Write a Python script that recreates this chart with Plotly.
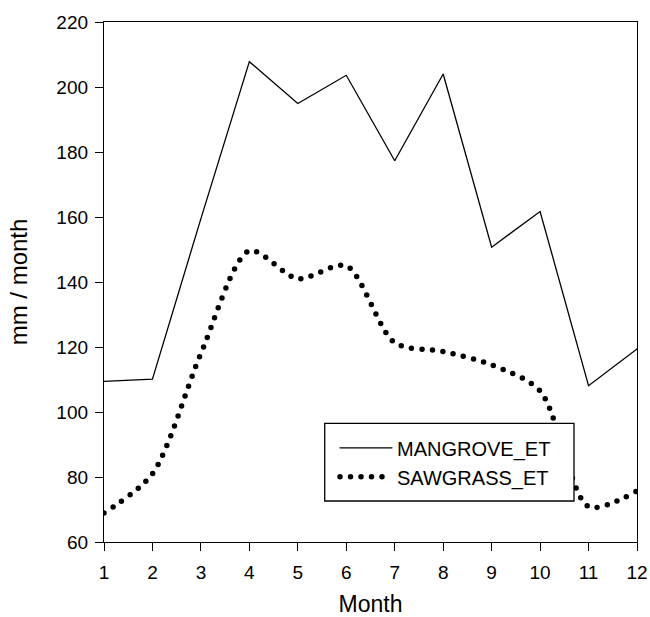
import plotly.graph_objects as go

months = [1, 2, 3, 4, 5, 6, 7, 8, 9, 10, 11, 12]
mangrove_et = [109.4, 110.1, 159.5, 207.8, 194.9, 203.6, 177.3, 204.0, 150.7, 161.7, 108.1, 119.4]
sawgrass_et = [68.9, 81.0, 118.0, 149.6, 141.0, 145.0, 121.3, 118.6, 114.5, 106.5, 70.9, 75.7]
x_ticks = months
y_ticks = [60, 80, 100, 120, 140, 160, 180, 200, 220]

FONT = "Liberation Sans, Arial, sans-serif"

fig = go.Figure()
fig.add_trace(go.Scatter(
    x=months, y=mangrove_et, mode="lines", name="MANGROVE_ET",
    line=dict(color="black", width=1.3),
))
fig.add_trace(go.Scatter(
    x=months, y=sawgrass_et, mode="lines", name="SAWGRASS_ET",
    line=dict(color="black", width=5.5, dash="0px,10.5px", shape="spline", smoothing=0.8),
))

axis_common = dict(
    showgrid=False, zeroline=False, showline=True, linecolor="black", linewidth=1.3,
    mirror=True, ticks="outside", ticklen=8, tickwidth=1.3, tickcolor="black",
    tickfont=dict(family=FONT, size=19, color="black"), automargin=False,
)

# legend frame (white box hiding the lines beneath the legend)
fig.add_shape(
    type="rect", xref="paper", yref="paper",
    x0=0.4141, x1=0.8818, y0=0.0788, y1=0.2283,
    line=dict(color="black", width=1.3), fillcolor="white", layer="above",
)

fig.update_layout(
    template="none",
    width=650, height=617,
    margin=dict(l=104, r=13, t=22, b=75),
    paper_bgcolor="white", plot_bgcolor="white",
    font=dict(family=FONT, color="black"),
    showlegend=True,
    legend=dict(
        x=0.4334, y=0.2187, xanchor="left", yanchor="top",
        bgcolor="rgba(0,0,0,0)", borderwidth=0,
        font=dict(family=FONT, size=20, color="black"),
        itemwidth=52,
    ),
    xaxis=dict(
        range=[1, 12], tickvals=x_ticks, ticklabelstandoff=5,
        title=dict(text="Month", font=dict(family=FONT, size=23, color="black"), standoff=24),
        **axis_common,
    ),
    yaxis=dict(
        range=[60, 220], tickvals=y_ticks, ticklabelstandoff=3,
        title=dict(text="mm / month", font=dict(family=FONT, size=24, color="black"), standoff=21),
        **axis_common,
    ),
)

post = """
var s = document.createElement('style');
s.innerHTML = '.js-line{stroke-linecap:round !important;}';
document.head.appendChild(s);
"""

fig.write_html("out.html", post_script=post)
